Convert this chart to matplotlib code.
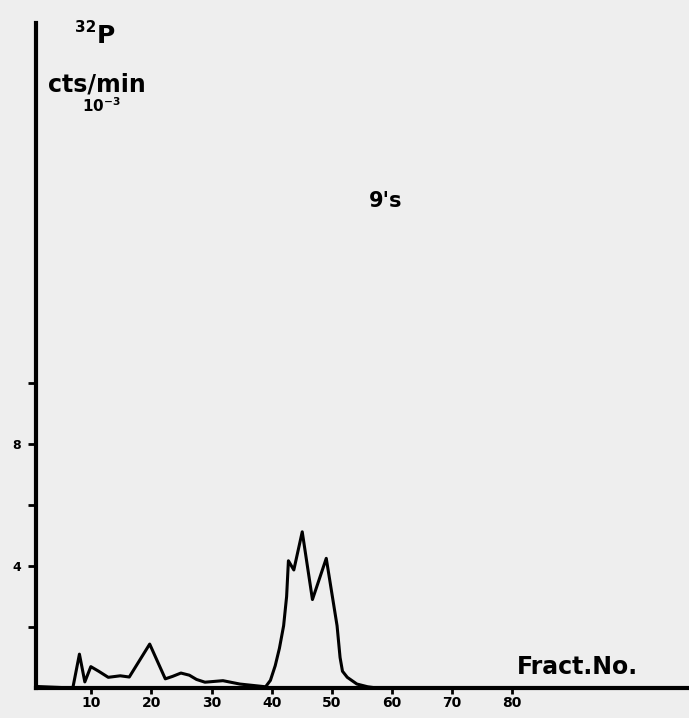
import matplotlib.pyplot as plt
import numpy as np

# Fraction number vs 32P counts (cts/min x 10^-3)
fraction = [0.8, 6.9, 8.0, 8.9, 9.9, 11.2, 12.8, 14.8, 16.3, 19.7, 22.3,
            23.5, 24.9, 26.3, 27.5, 28.9, 31.9, 34.7, 39.0, 39.8, 40.6,
            41.3, 42.0, 42.5, 42.8, 43.7, 45.1, 46.8, 49.1, 50.9, 51.4,
            51.8, 52.6, 54.2, 56.0, 57.5, 58.5]
counts = [0.05, 0.0, 1.11, 0.2, 0.7, 0.55, 0.35, 0.4, 0.36, 1.44, 0.3,
          0.38, 0.49, 0.42, 0.28, 0.19, 0.24, 0.13, 0.04, 0.25, 0.73,
          1.3, 2.04, 3.0, 4.17, 3.87, 5.12, 2.9, 4.25, 2.04, 1.0,
          0.55, 0.35, 0.13, 0.04, 0.0, 0.0]

x_ticks = [10, 20, 30, 40, 50, 60, 70, 80]
y_ticks = [2, 4, 6, 8, 10]
y_labels = ['', '4', '', '8', '']

W, H = 689, 718
fig = plt.figure(figsize=(W / 100, H / 100), dpi=100)
fig.patch.set_facecolor('#eeeeee')

ax = fig.add_axes([36 / W, 30 / H, 1 - 36 / W, (688 - 23) / H])
ax.set_facecolor('none')
ax.plot(fraction, counts, color='black', linewidth=2.2,
        solid_joinstyle='round', solid_capstyle='round')

ax.set_xlim(0.77, 109.5)
ax.set_ylim(0, 21.8)
for side in ['top', 'right']:
    ax.spines[side].set_visible(False)
for side in ['left', 'bottom']:
    ax.spines[side].set_linewidth(3)

ax.set_xticks(x_ticks)
ax.set_xticklabels([str(t) for t in x_ticks], fontweight='heavy', fontsize=10)
ax.set_yticks(y_ticks)
ax.set_yticklabels(y_labels, fontweight='heavy', fontsize=9)
ax.tick_params(axis='x', direction='out', length=4, width=2, pad=2)
ax.tick_params(axis='y', direction='out', length=6, width=2, pad=5)


def ftext(px, py, s, **kw):
    fig.text(px / W, 1 - py / H, s, fontweight='bold', va='baseline', **kw)


ftext(75, 32, '32', fontsize=11)
ftext(97, 43, 'P', fontsize=18)
ftext(48, 92, 'cts/min', fontsize=17)
ftext(82, 112, r'$\mathbf{10^{-3}}$', fontsize=11)
ftext(369, 207, "9's", fontsize=15)
ftext(517, 674, 'Fract.No.', fontsize=17)

fig.savefig('out.png', dpi=100, facecolor=fig.get_facecolor())
